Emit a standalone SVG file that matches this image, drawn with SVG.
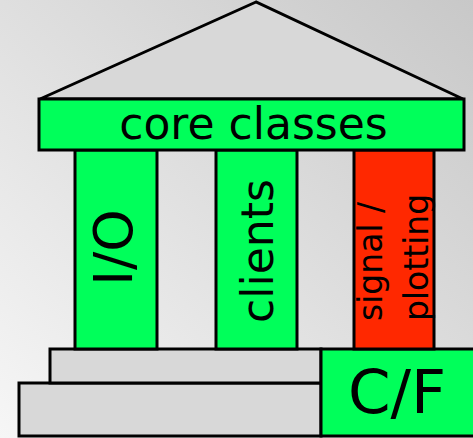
<svg xmlns="http://www.w3.org/2000/svg" width="473" height="438" viewBox="0 0 473 438">
  <defs>
    <linearGradient id="bg" x1="0" y1="1" x2="1" y2="0">
      <stop offset="0" stop-color="#f6f6f6"/>
      <stop offset="1" stop-color="#c8c8c8"/>
    </linearGradient>
  </defs>
  <style>
    .part { stroke: #000; stroke-width: 3; stroke-linejoin: miter; }
    .stone { fill: #d8d8d8; }
    .green { fill: #00ff5a; }
    .red { fill: #ff2800; }
    .label { font-family: "DejaVu Sans", Verdana, sans-serif; fill: #000; }
  </style>

  <rect x="0" y="0" width="473" height="438" fill="url(#bg)"/>

  <!-- pediment -->
  <g id="roof">
    <polygon class="part stone" points="256,2 40,99 463,99"/>
  </g>

  <!-- stylobate steps -->
  <g id="steps">
    <rect class="part stone" x="19" y="383" width="302" height="53"/>
    <rect class="part stone" x="50" y="349" width="271" height="34"/>
  </g>

  <g id="cf">
    <rect class="part green" x="321" y="349" width="160" height="87"/>
    <text class="label" x="397" y="413" font-size="61" text-anchor="middle">C/F</text>
  </g>

  <!-- columns -->
  <g id="io">
    <rect class="part green" x="75" y="150" width="82" height="199"/>
    <text class="label" transform="translate(132,247.5) rotate(-90)" font-size="54" text-anchor="middle">I/O</text>
  </g>

  <g id="clients">
    <rect class="part green" x="216" y="150" width="81" height="199"/>
    <text class="label" transform="translate(273,251) rotate(-90)" font-size="44" text-anchor="middle">clients</text>
  </g>

  <g id="signal-plotting">
    <rect class="part red" x="354" y="150" width="80" height="199"/>
    <text class="label" transform="translate(382,321) rotate(-90)" font-size="33">signal /</text>
    <text class="label" transform="translate(428,321) rotate(-90)" font-size="33">plotting</text>
  </g>

  <!-- entablature -->
  <g id="core">
    <rect class="part green" x="39" y="99" width="425" height="51"/>
    <text class="label" x="253.5" y="139" font-size="44" text-anchor="middle">core classes</text>
  </g>
</svg>
